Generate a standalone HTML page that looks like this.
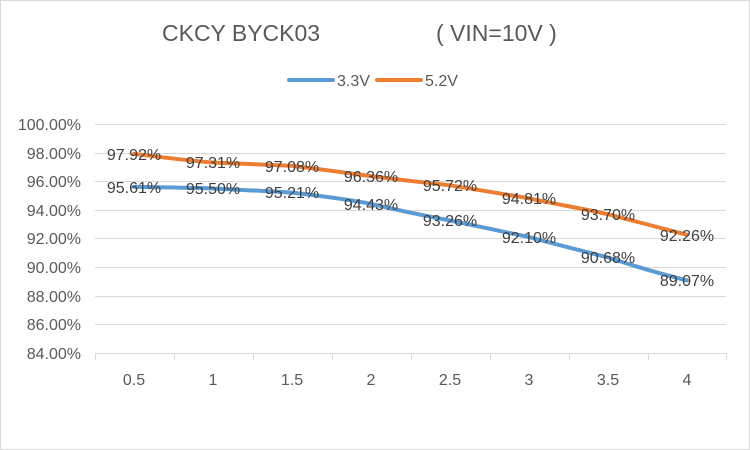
<!DOCTYPE html>
<html><head><style>
body{margin:0;background:#fff;}
svg{display:block;font-family:"Liberation Sans","Noto Sans CJK SC",sans-serif;}
</style></head><body>
<svg width="750" height="450" viewBox="0 0 750 450">
<rect x="0.5" y="0.5" width="749" height="449" fill="#fff" stroke="#d9d9d9"/>
<text x="162" y="41" font-size="23" fill="#595959">CKCY BYCK03</text>
<text x="436" y="41" font-size="23" fill="#595959">( VIN=10V )</text>
<line x1="289" y1="80" x2="333" y2="80" stroke="#5b9bd5" stroke-width="4" stroke-linecap="round"/>
<text x="337" y="86" font-size="16" fill="#595959">3.3V</text>
<line x1="377" y1="80" x2="421" y2="80" stroke="#ed7d31" stroke-width="4" stroke-linecap="round"/>
<text x="425" y="86" font-size="16" fill="#595959">5.2V</text>
<g stroke="#d9d9d9" stroke-width="1">
<line x1="95" x2="726" y1="124.5" y2="124.5"/>
<line x1="95" x2="726" y1="153.5" y2="153.5"/>
<line x1="95" x2="726" y1="181.5" y2="181.5"/>
<line x1="95" x2="726" y1="210.5" y2="210.5"/>
<line x1="95" x2="726" y1="238.5" y2="238.5"/>
<line x1="95" x2="726" y1="267.5" y2="267.5"/>
<line x1="95" x2="726" y1="296.5" y2="296.5"/>
<line x1="95" x2="726" y1="324.5" y2="324.5"/>
<line x1="95" x2="726" y1="353.5" y2="353.5"/>
<line x1="95.5" x2="95.5" y1="353" y2="360"/><line x1="174.5" x2="174.5" y1="353" y2="360"/>
<line x1="253.5" x2="253.5" y1="353" y2="360"/><line x1="332.5" x2="332.5" y1="353" y2="360"/>
<line x1="411.5" x2="411.5" y1="353" y2="360"/><line x1="490.5" x2="490.5" y1="353" y2="360"/>
<line x1="569.5" x2="569.5" y1="353" y2="360"/><line x1="648.5" x2="648.5" y1="353" y2="360"/>
<line x1="726.5" x2="726.5" y1="353" y2="360"/>
</g>
<g font-size="16" fill="#595959" text-anchor="end">
<text x="81" y="130">100.00%</text><text x="81" y="159">98.00%</text><text x="81" y="187">96.00%</text>
<text x="81" y="216">94.00%</text><text x="81" y="244">92.00%</text><text x="81" y="273">90.00%</text>
<text x="81" y="302">88.00%</text><text x="81" y="330">86.00%</text><text x="81" y="359">84.00%</text>
</g>
<g font-size="16" fill="#595959" text-anchor="middle">
<text x="134" y="385">0.5</text><text x="213" y="385">1</text><text x="292" y="385">1.5</text>
<text x="371" y="385">2</text><text x="450" y="385">2.5</text><text x="529" y="385">3</text>
<text x="608" y="385">3.5</text><text x="687" y="385">4</text>
</g>
<path d="M134,186.9 C160,187.4 186,187.7 213,188.5 C240,189.8 266,191 292,192.6 C318,195.5 345,199 371,203.8 C397,210 424,215.5 450,220.5 C476,226 503,231.5 529,237.1 C555,244 582,251 608,257.4 C634,266 661,274 687,280.4" fill="none" stroke="#5b9bd5" stroke-width="4" stroke-linecap="round"/>
<path d="M134,153.8 C160,157 186,160.5 213,162.5 C240,163.8 266,164.6 292,165.8 C318,169 345,172.5 371,176.1 C397,179.5 424,182.5 450,185.3 C476,189.5 503,194 529,198.3 C555,204 582,208.5 608,214.2 C634,221 661,228 687,234.8" fill="none" stroke="#ed7d31" stroke-width="4" stroke-linecap="round"/>
<g font-size="16" fill="#404040" text-anchor="middle">
<text x="134" y="160">97.92%</text><text x="213" y="168">97.31%</text><text x="292" y="172">97.08%</text>
<text x="371" y="182">96.36%</text><text x="450" y="191">95.72%</text><text x="529" y="204">94.81%</text>
<text x="608" y="220">93.70%</text><text x="687" y="241">92.26%</text>
<text x="134" y="193">95.61%</text><text x="213" y="194">95.50%</text><text x="292" y="198">95.21%</text>
<text x="371" y="210">94.43%</text><text x="450" y="226">93.26%</text><text x="529" y="243">92.10%</text>
<text x="608" y="263">90.68%</text><text x="687" y="286">89.07%</text>
</g>
</svg>
</body></html>
